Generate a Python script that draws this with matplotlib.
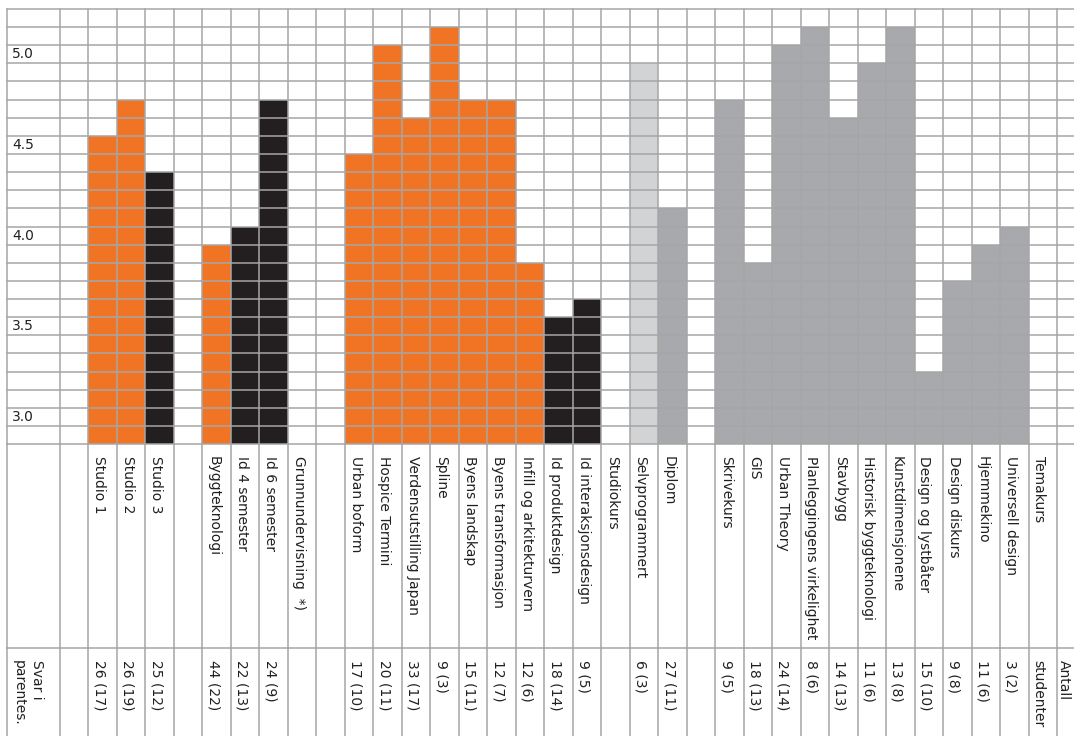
import numpy as np
import matplotlib.pyplot as plt

# one entry per column of the grid ('' = empty column)
courses = ['', 'Studio 1', 'Studio 2', 'Studio 3', '', 'Byggteknologi',
           'Id 4 semester', 'Id 6 semester', 'Grunnundervisning  *)', '',
           'Urban boform', 'Hospice Termini', 'Verdensutstilling Japan',
           'Spline', 'Byens landskap', 'Byens transformasjon',
           'Infill og arkitekturvern', 'Id produktdesign',
           'Id interaksjonsdesign', 'Studiokurs', 'Selvprogrammert', 'Diplom',
           '', 'Skrivekurs', 'GIS', 'Urban Theory',
           'Planleggingens virkelighet', 'Stavbygg', 'Historisk byggteknologi',
           'Kunstdimensjonene', 'Design og lystbåter', 'Design diskurs',
           'Hjemmekino', 'Universell design', 'Temakurs']

scores = [np.nan, 4.6, 4.8, 4.4, np.nan, 4.0,
          4.1, 4.8, np.nan, np.nan,
          4.5, 5.1, 4.7,
          5.2, 4.8, 4.8,
          3.9, 3.6,
          3.7, np.nan, 5.0, 4.2,
          np.nan, 4.8, 3.9, 5.1,
          5.2, 4.7, 5.0,
          5.2, 3.3, 3.8,
          4.0, 4.1, np.nan]

answers = ['', '26 (17)', '26 (19)', '25 (12)', '', '44 (22)',
           '22 (13)', '24 (9)', '', '',
           '17 (10)', '20 (11)', '33 (17)',
           '9 (3)', '15 (11)', '12 (7)',
           '12 (6)', '18 (14)',
           '9 (5)', '', '6 (3)', '27 (11)',
           '', '9 (5)', '18 (13)', '24 (14)',
           '8 (6)', '14 (13)', '11 (6)',
           '13 (8)', '15 (10)', '9 (8)',
           '11 (6)', '3 (2)', '']

groups = ['', 'ark', 'ark', 'design', '', 'ark',
          'design', 'design', '', '',
          'ark', 'ark', 'ark',
          'ark', 'ark', 'ark',
          'ark', 'design',
          'design', '', 'selv', 'tema',
          '', 'tema', 'tema', 'tema',
          'tema', 'tema', 'tema',
          'tema', 'tema', 'tema',
          'tema', 'tema', '']

ytick_values = [3.0, 3.5, 4.0, 4.5, 5.0]
ytick_labels = ['3.0', '3.5', '4.0', '4.5', '5.0']

group_colors = {'ark': '#f07424', 'design': '#231f20',
                'selv': '#d1d3d4', 'tema': '#a7a9ac'}
grid_color = '#a6a6a6'
text_color = '#231f20'
lw = 1.1

W, H = 1074, 736
fig = plt.figure(figsize=(W / 100, H / 100), dpi=100)


def px_axes(top, bottom):
    return fig.add_axes([7 / W, 1 - bottom / H, (W - 7) / W, (bottom - top) / H])


ax = px_axes(9, 444)
ax_lab = px_axes(444, 648)
ax_num = px_axes(648, 736)

col_w = 28.486
x_left = -53 / col_w
x_right = (W - 60) / col_w
n = len(courses)

for a in (ax, ax_lab, ax_num):
    a.set_xlim(x_left, x_right)
    a.set_axis_off()
    for i in range(n + 1):
        a.axvline(i, color=grid_color, lw=lw, zorder=3, clip_on=False)
    a.axvline(x_left, color=grid_color, lw=lw, zorder=3, clip_on=False)

ax.set_ylim(2.9, 5.3)
ax_lab.set_ylim(0, 1)
ax_num.set_ylim(0, 1)

# bars
x = np.arange(n) + 0.5
vals = np.array(scores)
mask = ~np.isnan(vals)
colors = [group_colors[g] for g, m in zip(groups, mask) if m]
ax.bar(x[mask], vals[mask] - 2.9, bottom=2.9, width=1.0, color=colors,
       linewidth=0, zorder=1)

# horizontal grid, one line per 0.1
for k in range(25):
    ax.axhline(2.9 + 0.1 * k, color=grid_color, lw=lw, zorder=3, clip_on=False)
ax_num.axhline(1.0, color=grid_color, lw=lw, zorder=3, clip_on=False)

for v, lab in zip(ytick_values, ytick_labels):
    ax.text(x_left + 0.18, v + 0.05, lab, ha='left', va='center',
            fontsize=10, color=text_color)

dx = -0.12
for i, name in enumerate(courses):
    if name:
        ax_lab.text(i + 0.5 + dx, 1 - 12 / 204, name, rotation=-90,
                    ha='center', va='top', fontsize=10, color=text_color)
for i, cnt in enumerate(answers):
    if cnt:
        ax_num.text(i + 0.5 + dx, 1 - 12 / 88, cnt, rotation=-90,
                    ha='center', va='top', fontsize=10, color=text_color)

ax_num.text(-1.12, 1 - 12 / 88, 'Svar i\nparentes.', rotation=-90,
            ha='center', va='top', multialignment='left', linespacing=1.35,
            fontsize=10, color=text_color)
ax_num.text(34.33, 1 - 12 / 88, 'studenter', rotation=-90,
            ha='center', va='top', fontsize=10, color=text_color)
ax_num.text(35.25, 1 - 12 / 88, 'Antall', rotation=-90,
            ha='center', va='top', fontsize=10, color=text_color)

fig.savefig('out.png', dpi=100)
